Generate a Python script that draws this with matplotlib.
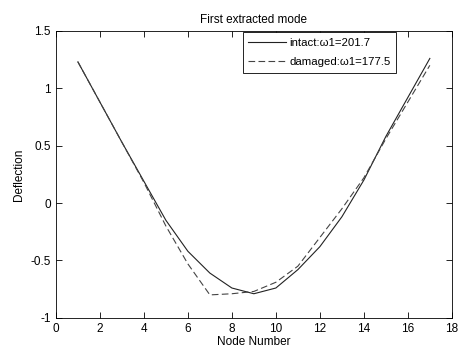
import numpy as np
import matplotlib
matplotlib.use("Agg")
import matplotlib.pyplot as plt

plt.rcParams["font.family"] = ["Liberation Sans", "DejaVu Sans"]
plt.rcParams["font.size"] = 8.5

nodes = np.arange(1, 18)
intact = [1.23, 0.88, 0.53, 0.19, -0.15, -0.42, -0.61, -0.74, -0.79,
          -0.74, -0.58, -0.38, -0.12, 0.2, 0.58, 0.92, 1.26]
damaged = [1.23, 0.88, 0.53, 0.18, -0.2, -0.53, -0.8, -0.79, -0.77,
           -0.69, -0.55, -0.3, -0.05, 0.22, 0.56, 0.88, 1.2]

fig = plt.figure(figsize=(4.62, 3.47), dpi=100)
ax = fig.add_axes([0.121, 0.084, 0.857, 0.827])

ax.plot(nodes, intact, color="#222222", lw=0.8, label="intact:\u03c91=201.7")
ax.plot(nodes, damaged, color="#444444", lw=0.8, ls=(0, (6, 3)),
        label="damaged:\u03c91=177.5")

ax.set_xlim(0, 18)
ax.set_ylim(-1, 1.5)
ax.set_xticks(np.arange(0, 19, 2))
ax.set_yticks([-1, -0.5, 0, 0.5, 1, 1.5])
ax.set_yticklabels(["-1", "-0.5", "0", "0.5", "1", "1.5"])
ax.tick_params(direction="in", top=True, right=True, length=4, width=0.6)
for s in ax.spines.values():
    s.set_linewidth(0.6)

ax.set_title("First extracted mode", fontsize=8.5, pad=6)
ax.set_xlabel("Node Number", labelpad=1)
ax.set_ylabel("Deflection", labelpad=4)

leg = ax.legend(loc="upper right", bbox_to_anchor=(0.86, 0.996),
                fancybox=False, edgecolor="black", framealpha=1,
                fontsize=8.2, handlelength=3.3, borderaxespad=0,
                borderpad=0.5, labelspacing=0.8, handletextpad=0.3)
leg.get_frame().set_linewidth(0.6)

fig.savefig("out.png", dpi=100)
